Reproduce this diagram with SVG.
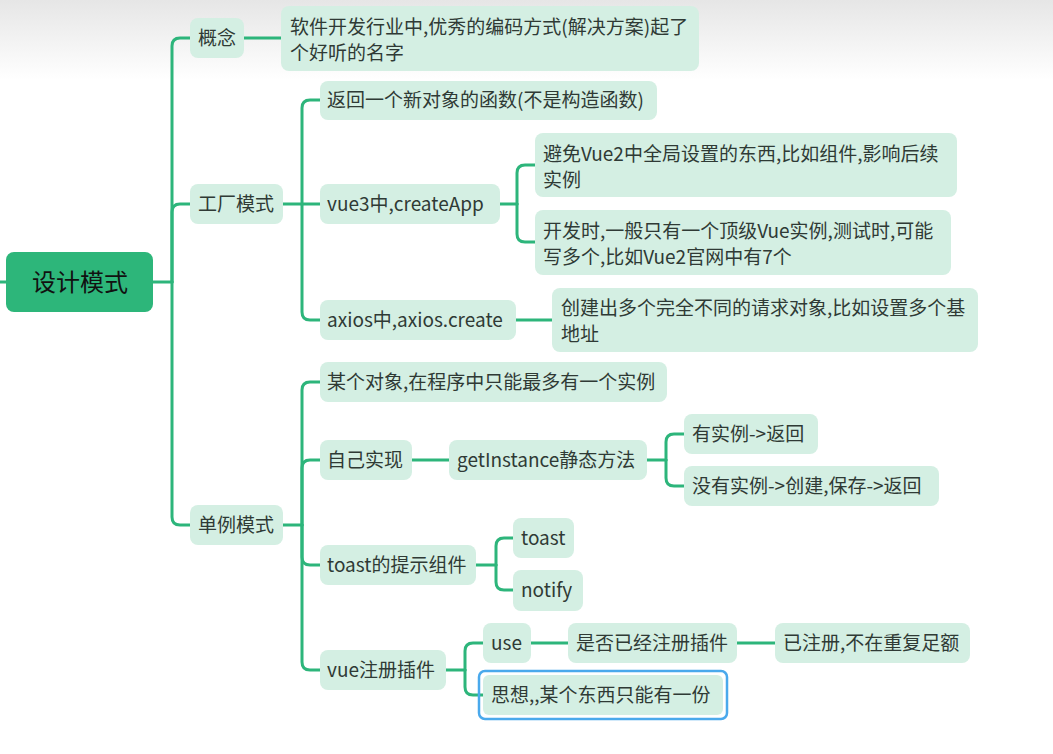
<svg xmlns="http://www.w3.org/2000/svg" width="1053" height="754" viewBox="0 0 1053 754">
<defs>
<linearGradient id="topfade" x1="0" y1="0" x2="0" y2="1">
<stop offset="0" stop-color="#e6e6e6"/>
<stop offset="1" stop-color="#ffffff"/>
</linearGradient>
<style>
.n{fill:#d4efe3;}
.t{font-family:"Noto Sans CJK SC","Noto Sans",sans-serif;font-size:19px;fill:#2f3a35;dominant-baseline:central;}
.c{fill:none;stroke:#2db57b;stroke-width:3;stroke-linecap:round;stroke-linejoin:round;}
</style>
</defs>
<rect x="0" y="0" width="1053" height="754" fill="#ffffff"/>
<rect x="0" y="0" width="1053" height="80" fill="url(#topfade)"/>

<g id="connectors">
<path class="c" d="M0,282 H6"/>
<path class="c" d="M153,282 H172"/>
<path class="c" d="M172,282 V46 Q172,38 180,38 H190"/>
<path class="c" d="M172,282 V212 Q172,204 180,204 H190"/>
<path class="c" d="M172,282 V517 Q172,525 180,525 H190"/>
<path class="c" d="M244,38 H281"/>
<path class="c" d="M283,204 H302"/>
<path class="c" d="M302,204 V108 Q302,100 310,100 H320"/>
<path class="c" d="M302,204 H320"/>
<path class="c" d="M302,204 V312 Q302,320 310,320 H320"/>
<path class="c" d="M500,204 H517"/>
<path class="c" d="M517,204 V173 Q517,165 525,165 H535"/>
<path class="c" d="M517,204 V234 Q517,242 525,242 H535"/>
<path class="c" d="M516,320 H552"/>
<path class="c" d="M283,525 H302"/>
<path class="c" d="M302,525 V390 Q302,382 310,382 H320"/>
<path class="c" d="M302,525 V468 Q302,460 310,460 H320"/>
<path class="c" d="M302,525 V557 Q302,565 310,565 H320"/>
<path class="c" d="M302,525 V662 Q302,670 310,670 H320"/>
<path class="c" d="M412,460 H449"/>
<path class="c" d="M647,460 H666"/>
<path class="c" d="M666,460 V442 Q666,434 674,434 H684"/>
<path class="c" d="M666,460 V478 Q666,486 674,486 H684"/>
<path class="c" d="M476,565 H496"/>
<path class="c" d="M496,565 V546 Q496,538 504,538 H513"/>
<path class="c" d="M496,565 V582 Q496,590 504,590 H513"/>
<path class="c" d="M446,670 H465"/>
<path class="c" d="M465,670 V651 Q465,643 473,643 H483"/>
<path class="c" d="M465,670 V687 Q465,695 473,695 H483"/>
<path class="c" d="M531,643 H568"/>
<path class="c" d="M737,643 H775"/>
</g>

<g id="root">
<rect x="6" y="252" width="147" height="60" rx="8" fill="#2db67a"/>
<text x="80" y="280" text-anchor="middle" style="font-family:'Noto Sans CJK SC','Noto Sans',sans-serif;font-size:24px;fill:#111;dominant-baseline:central;">设计模式</text>
</g>

<g id="n-gainian">
<rect class="n" x="190" y="18" width="54" height="40" rx="8"/>
<text class="t" x="198" y="36">概念</text>
</g>
<g id="n-gainian-desc">
<rect class="n" x="281" y="6" width="418" height="65" rx="8"/>
<text class="t" x="290" y="25">软件开发行业中,优秀的编码方式(解决方案)起了</text>
<text class="t" x="290" y="51">个好听的名字</text>
</g>

<g id="n-gongchang">
<rect class="n" x="190" y="184" width="93" height="40" rx="8"/>
<text class="t" x="198" y="202">工厂模式</text>
</g>
<g id="n-fanhui">
<rect class="n" x="320" y="81" width="337" height="39" rx="8"/>
<text class="t" x="327" y="98">返回一个新对象的函数(不是构造函数)</text>
</g>
<g id="n-vue3">
<rect class="n" x="320" y="184" width="180" height="40" rx="8"/>
<text class="t" x="327" y="202">vue3中,createApp</text>
</g>
<g id="n-bimian">
<rect class="n" x="535" y="133" width="422" height="64" rx="8"/>
<text class="t" x="543" y="152">避免Vue2中全局设置的东西,比如组件,影响后续</text>
<text class="t" x="543" y="178">实例</text>
</g>
<g id="n-kaifa">
<rect class="n" x="535" y="210" width="416" height="65" rx="8"/>
<text class="t" x="543" y="229">开发时,一般只有一个顶级Vue实例,测试时,可能</text>
<text class="t" x="543" y="255">写多个,比如Vue2官网中有7个</text>
</g>
<g id="n-axios">
<rect class="n" x="320" y="300" width="196" height="40" rx="8"/>
<text class="t" x="327" y="318">axios中,axios.create</text>
</g>
<g id="n-chuangjian">
<rect class="n" x="552" y="288" width="426" height="64" rx="8"/>
<text class="t" x="561" y="306">创建出多个完全不同的请求对象,比如设置多个基</text>
<text class="t" x="561" y="332">地址</text>
</g>

<g id="n-danli">
<rect class="n" x="190" y="505" width="93" height="40" rx="8"/>
<text class="t" x="198" y="523">单例模式</text>
</g>
<g id="n-mouge">
<rect class="n" x="320" y="362" width="347" height="40" rx="8"/>
<text class="t" x="327" y="380">某个对象,在程序中只能最多有一个实例</text>
</g>
<g id="n-ziji">
<rect class="n" x="320" y="440" width="92" height="40" rx="8"/>
<text class="t" x="327" y="458">自己实现</text>
</g>
<g id="n-getinstance">
<rect class="n" x="449" y="440" width="198" height="40" rx="8"/>
<text class="t" x="457" y="458">getInstance静态方法</text>
</g>
<g id="n-youshili">
<rect class="n" x="684" y="414" width="134" height="40" rx="8"/>
<text class="t" x="692" y="432">有实例-&gt;返回</text>
</g>
<g id="n-meiyou">
<rect class="n" x="684" y="466" width="255" height="40" rx="8"/>
<text class="t" x="692" y="484">没有实例-&gt;创建,保存-&gt;返回</text>
</g>
<g id="n-toastcomp">
<rect class="n" x="320" y="545" width="156" height="40" rx="8"/>
<text class="t" x="327" y="563">toast的提示组件</text>
</g>
<g id="n-toast">
<rect class="n" x="513" y="518" width="61" height="40" rx="8"/>
<text class="t" x="521" y="536">toast</text>
</g>
<g id="n-notify">
<rect class="n" x="513" y="570" width="70" height="41" rx="8"/>
<text class="t" x="521" y="588">notify</text>
</g>
<g id="n-vueplugin">
<rect class="n" x="320" y="650" width="126" height="40" rx="8"/>
<text class="t" x="327" y="668">vue注册插件</text>
</g>
<g id="n-use">
<rect class="n" x="483" y="623" width="48" height="40" rx="8"/>
<text class="t" x="491" y="641">use</text>
</g>
<g id="n-shifou">
<rect class="n" x="568" y="623" width="169" height="40" rx="8"/>
<text class="t" x="576" y="641">是否已经注册插件</text>
</g>
<g id="n-yizhuce">
<rect class="n" x="775" y="623" width="195" height="40" rx="8"/>
<text class="t" x="783" y="641">已注册,不在重复足额</text>
</g>
<g id="n-sixiang">
<rect x="479" y="671" width="248" height="48" rx="6" fill="none" stroke="#4aa9ec" stroke-width="2.5"/>
<rect class="n" x="483" y="675" width="240" height="40" rx="6"/>
<text class="t" x="491" y="693">思想,,某个东西只能有一份</text>
</g>
</svg>
